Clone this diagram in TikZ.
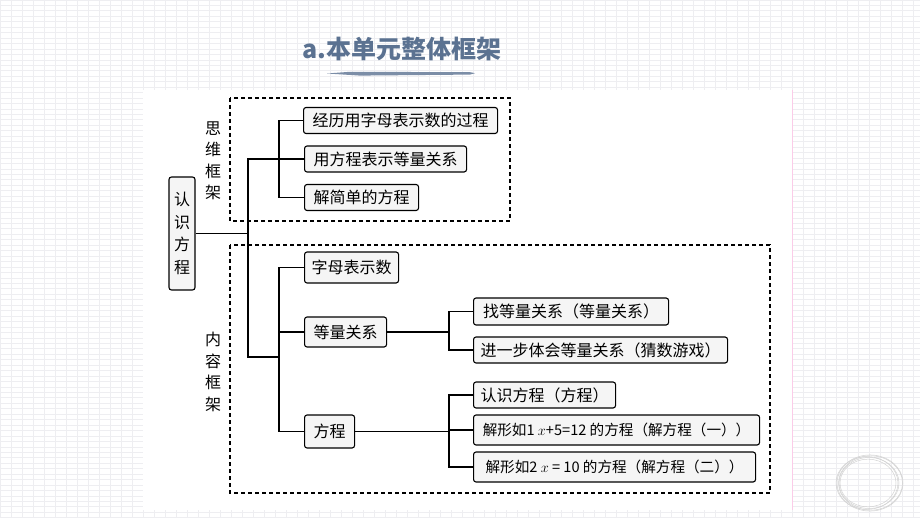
\documentclass[tikz,border=0pt]{standalone}
\usepackage{fontspec}
\setmainfont{Noto Sans CJK SC}
\usetikzlibrary{positioning}
\definecolor{titleblue}{HTML}{5B7291}
\definecolor{gridline}{HTML}{EEEEF1}
\definecolor{boxfill}{HTML}{F5F5F5}
\tikzstyle{topic} = [draw=black, rounded corners=2.5pt, line width=1.1pt, fill=boxfill, inner xsep=5pt, inner ysep=0pt, minimum height=26pt, anchor=west, text centered, font=\fontsize{16}{16}\selectfont]
\tikzstyle{frame} = [dash pattern=on 4pt off 3pt, line width=1.1pt]
\tikzstyle{link} = [line width=1.1pt]
\tikzstyle{side} = [align=center, font=\fontsize{16}{21.5}\selectfont]
\tikzstyle{small} = [inner xsep=3pt, font=\fontsize{14.6}{14.6}\selectfont]

\begin{document}
\begin{tikzpicture}[x=1pt, y=-1pt]
\useasboundingbox (0,0) rectangle (920,518);

% background
\foreach \gx in {0,11,...,920} \draw[gridline, line width=0.8pt] (\gx,0) -- (\gx,518);
\foreach \gy in {0,5.45,...,518} \draw[gridline, line width=0.8pt] (0,\gy) -- (920,\gy);
\fill[white] (143,90) rectangle (792,510);
\draw[magenta!20, line width=0.8pt] (792,90) -- (792,510);
\foreach \r/\dx in {30/0,32/1.5,28/-1,31/-2,33/1} \draw[gray!35, line width=0.5pt] (869+\dx,483) ellipse ({\r pt} and {\r pt*0.85});

% title
\node (title) at (402,49) {\color{titleblue}\fontsize{25}{25}\selectfont\bfseries a.本单元整体框架};
\fill[titleblue!80] (327,73.5) -- (350,71.8) -- (470,72.2) -- (475,73.2) -- (470,74.6) -- (360,75.6) -- cycle;

% frames
\draw[frame] (230,98) rectangle (510,221);
\draw[frame] (230,245) rectangle (770,493);
\node (think) [side] at (213,161) {思\\维\\框\\架};
\node (content) [side] at (213,372) {内\\容\\框\\架};

% nodes
\node (root) [topic, anchor=center, minimum width=26pt, minimum height=113pt, inner xsep=0pt, font=\fontsize{16}{22.7}\selectfont, align=center] at (182,233.5) {认\\识\\方\\程};

\node (e1) [topic, minimum width=194pt] at (303,120.5) {经历用字母表示数的过程};
\node (e2) [topic, minimum width=162pt] at (304,159) {用方程表示等量关系};
\node (e3) [topic, minimum width=114pt] at (304,197.5) {解简单的方程};

\node (c1) [topic, minimum width=94pt, minimum height=31pt] at (304,267.5) {字母表示数};
\node (c2) [topic, minimum width=82pt, minimum height=30pt] at (304,332) {等量关系};
\node (c3) [topic, minimum width=50pt, minimum height=33pt] at (304,431.5) {方程};

\node (d1) [topic, minimum width=195pt, minimum height=27pt] at (473,311.5) {找等量关系（等量关系）};
\node (d2) [topic, minimum width=254pt] at (473,350) {进一步体会等量关系（猜数游戏）};

\node (f1) [topic, minimum width=142pt] at (473,395) {认识方程（方程）};
\node (f2) [topic, small, minimum width=286pt, minimum height=30pt] at (473,430) {解形如1 $x$+5=12 的方程（解方程（一））};
\node (f3) [topic, small, minimum width=282pt, minimum height=30pt] at (473,467) {解形如2 $x$ = 10 的方程（解方程（二））};

% connectors
\coordinate (j0) at (248,357);
\coordinate (j1) at (279,159);
\coordinate (j2) at (279,357);
\coordinate (j3) at (449,332);
\coordinate (j4) at (449,431.5);

\draw[link] (root.east) -- (root.east -| j0);
\draw[link] (e2.west) -| (j0) -- (j2);
\draw[link] (e1.west) -| (j1) |- (e3.west);
\draw[link] (c1.west) -| (j2) |- (c3.west);
\draw[link] (c2.west) -- (c2.west -| j2);
\draw[link] (c2.east) -- (j3);
\draw[link] (d1.west) -| (j3) |- (d2.west);
\draw[link] (c3.east) -- (j4);
\draw[link] (f1.west) -| (j4) |- (f3.west);
\draw[link] (f2.west) -- (f2.west -| j4);

\end{tikzpicture}
\end{document}
